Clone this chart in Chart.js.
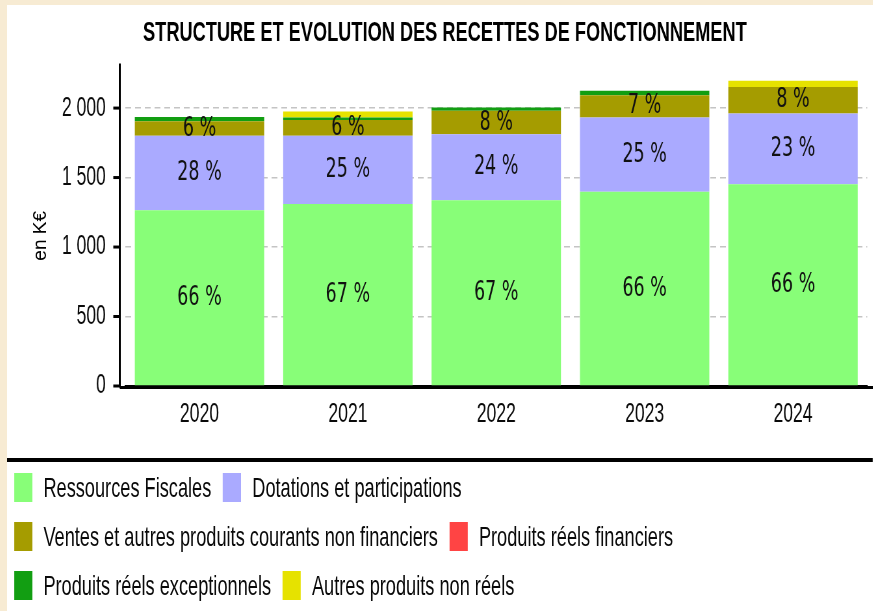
<!DOCTYPE html>
<html lang="fr">
<head>
<meta charset="utf-8">
<script src="https://cdn.jsdelivr.net/npm/chart.js@4/dist/chart.umd.min.js"></script>
<style>
  html, body { margin: 0; padding: 0; }
  body { width: 873px; height: 611px; background: #f7ebd3; overflow: hidden; font-family: 'Liberation Sans', Arial, sans-serif; }
  .panel { position: absolute; left: 7px; top: 5px; width: 866px; height: 606px; background: #fff; overflow: hidden; }
  .stretch { width: 1332px; transform: scaleX(0.65); transform-origin: 0 0; }
  canvas { display: block; }
  .rule { height: 4px; background: #000; margin-top: 2px; }
  .legend { padding-top: 1px; }
  .legend-row { display: flex; align-items: center; height: 49px; padding-left: 11px; }
  .legend-item { display: flex; align-items: center; margin-right: 18px; font-size: 28px; color: #0a0a0a; }
  .legend-box { width: 28px; height: 29px; margin-right: 17px; }
</style>
</head>
<body>
<div class="panel">
  <div class="stretch">
    <canvas id="chart" width="1332" height="451"></canvas>
    <div class="rule"></div>
    <div class="legend" id="legend"></div>
  </div>
</div>
<script>
const years = ['2020', '2021', '2022', '2023', '2024'];

const seriesNames = [
  'Ressources Fiscales',
  'Dotations et participations',
  'Ventes et autres produits courants non financiers',
  'Produits réels financiers',
  'Produits réels exceptionnels',
  'Autres produits non réels',
];
const seriesColors = ['#88fe78', '#aaaaff', '#a59c00', '#ff4444', '#129e12', '#e6e200'];

// montants en K€
const ressourcesFiscales = [1265, 1310, 1337, 1397, 1452];
const dotations = [535, 490, 475, 535, 509];
const ventes = [105, 115, 168, 161, 190];
const produitsFinanciers = [0, 0, 0, 0, 0];
const produitsExceptionnels = [30, 17, 24, 31, 0];
const autresNonReels = [0, 43, 0, 0, 46];

// parts affichées dans les barres (%)
const partFiscales = [66, 67, 67, 66, 66];
const partDotations = [28, 25, 24, 25, 23];
const partVentes = [6, 6, 8, 7, 8];

const yTicks = [0, 500, 1000, 1500, 2000];
const yTitle = 'en K€';

const seriesValues = [ressourcesFiscales, dotations, ventes, produitsFinanciers, produitsExceptionnels, autresNonReels];
const seriesShares = [partFiscales, partDotations, partVentes];

const xScale = 0.65; // the page is squeezed horizontally

// y axis line drawn a little left of the plot, like the original
const yAxisLine = {
  id: 'yAxisLine',
  afterDraw(chart) {
    const { ctx, chartArea, scales, width } = chart;
    const x = chartArea.left - 8.5;
    ctx.save();
    ctx.strokeStyle = '#000';
    ctx.lineWidth = 3;
    ctx.beginPath();
    ctx.moveTo(x, chartArea.top);
    ctx.lineTo(x, chartArea.bottom + 1.5);
    ctx.stroke();
    yTicks.forEach((v) => {
      const y = scales.y.getPixelForValue(v);
      ctx.beginPath();
      ctx.moveTo(x - 10, y);
      ctx.lineTo(x, y);
      ctx.stroke();
    });
    // x axis runs from the y axis to the right edge
    ctx.beginPath();
    ctx.moveTo(x, chartArea.bottom + 1.5);
    ctx.lineTo(width, chartArea.bottom + 1.5);
    ctx.stroke();
    ctx.restore();

    // axis title, kept unsqueezed
    const midY = (chartArea.top + chartArea.bottom) / 2 + 11;
    ctx.save();
    ctx.font = '19px Arial';
    ctx.fillStyle = '#000';
    ctx.textAlign = 'center';
    ctx.textBaseline = 'middle';
    ctx.translate(52, midY);
    ctx.scale(1 / xScale, 1);
    ctx.rotate(-Math.PI / 2);
    ctx.fillText(yTitle, 0, 0);
    ctx.restore();
  },
};

const shareLabels = {
  id: 'shareLabels',
  afterDatasetsDraw(chart) {
    const { ctx } = chart;
    ctx.save();
    ctx.font = '27px "DejaVu Sans"';
    ctx.fillStyle = '#111';
    ctx.textAlign = 'center';
    ctx.textBaseline = 'middle';
    seriesShares.forEach((shares, i) => {
      const meta = chart.getDatasetMeta(i);
      meta.data.forEach((bar, j) => {
        const y = (bar.y + bar.base) / 2;
        ctx.fillText(shares[j] + ' %', bar.x, y);
      });
    });
    ctx.restore();
  },
};

function formatThousands(v) {
  return String(v).replace(/\B(?=(\d{3})+(?!\d))/g, ' ');
}

const datasets = seriesNames.map((name, i) => ({
  label: name,
  data: seriesValues[i],
  backgroundColor: seriesColors[i],
  borderWidth: 0,
  barPercentage: 0.872,
  categoryPercentage: 1,
}));

new Chart(document.getElementById('chart'), {
  type: 'bar',
  data: { labels: years, datasets: datasets },
  options: {
    responsive: false,
    animation: false,
    devicePixelRatio: 1,
    layout: { padding: { left: 24, right: 8.6, top: 0, bottom: 21.6 } },
    plugins: {
      legend: { display: false },
      tooltip: { enabled: false },
      title: {
        display: true,
        text: 'STRUCTURE ET EVOLUTION DES RECETTES DE FONCTIONNEMENT',
        color: '#000',
        font: { family: "'Liberation Sans', Arial, sans-serif", size: 28, weight: 'bold' },
        padding: { top: 11, bottom: 14 },
      },
    },
    scales: {
      x: {
        stacked: true,
        grid: { display: false },
        border: { display: true, color: '#000', width: 3 },
        ticks: {
          color: '#0a0a0a',
          padding: 4,
          font: { family: "'Liberation Sans', Arial, sans-serif", size: 27 },
        },
      },
      y: {
        stacked: true,
        min: 0,
        max: 2320,
        afterBuildTicks: (scale) => {
          scale.ticks = yTicks.map((v) => ({ value: v }));
        },
        afterFit: (scale) => {
          scale.width = 158;
        },
        grid: { color: '#c4c4c4', lineWidth: 1.5, drawTicks: false },
        border: { display: false, dash: [9, 6] },
        ticks: {
          color: '#0a0a0a',
          padding: 30,
          font: { family: "'Liberation Sans', Arial, sans-serif", size: 27 },
          callback: (v) => formatThousands(v),
        },
      },
    },
  },
  plugins: [yAxisLine, shareLabels],
});

// legend, two entries per row
const legend = document.getElementById('legend');
const rows = [[0, 1], [2, 3], [4, 5]];
legend.innerHTML = rows
  .map(
    (row) => `
    <div class="legend-row">
      ${row
        .map(
          (i) => `
        <div class="legend-item">
          <span class="legend-box" style="background:${seriesColors[i]}"></span>
          <span>${seriesNames[i]}</span>
        </div>`
        )
        .join('')}
    </div>`
  )
  .join('');
</script>
</body>
</html>
